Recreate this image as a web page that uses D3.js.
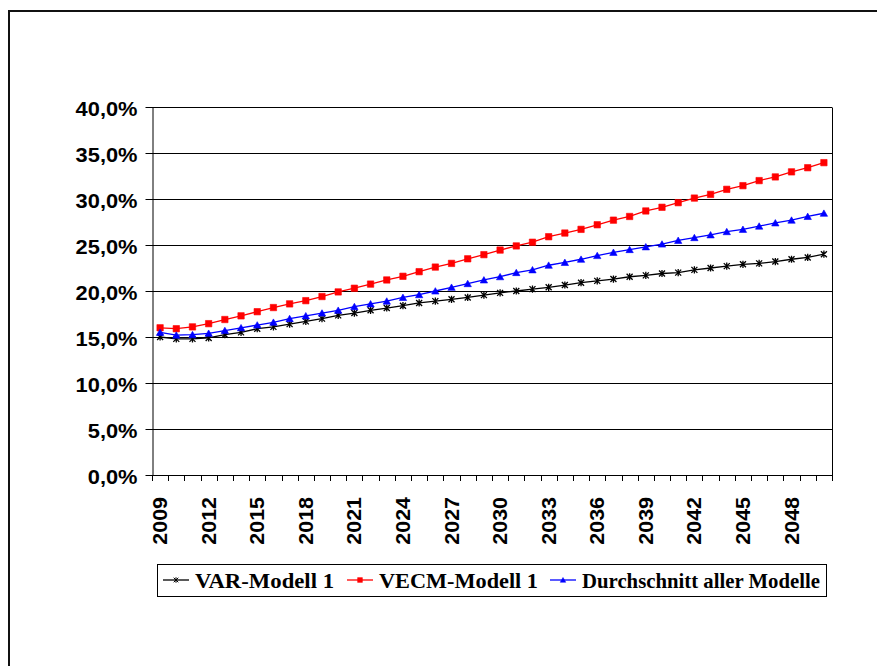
<!DOCTYPE html>
<html>
<head>
<meta charset="utf-8">
<script src="https://cdn.jsdelivr.net/npm/d3@7"></script>
<style>
  html, body { margin: 0; padding: 0; background: #fff; }
  svg { display: block; }
</style>
</head>
<body>
<svg id="chart" width="877" height="666"></svg>
<script>
// Years on the category axis
const years = d3.range(2009, 2051);

// Projected shares in percent
const varModell1 = [
  15.0, 14.8, 14.8, 14.9, 15.25, 15.5, 15.9, 16.1, 16.4, 16.7,
  17.0, 17.35, 17.6, 17.9, 18.15, 18.4, 18.7, 18.9, 19.1, 19.3,
  19.55, 19.8, 20.0, 20.2, 20.4, 20.65, 20.9, 21.1, 21.3, 21.55,
  21.7, 21.9, 22.0, 22.3, 22.5, 22.7, 22.9, 23.0, 23.2, 23.45,
  23.65, 24.0
];
const vecmModell1 = [
  16.0, 15.9, 16.1, 16.45, 16.9, 17.3, 17.75, 18.2, 18.6, 18.95,
  19.4, 19.9, 20.3, 20.75, 21.2, 21.6, 22.1, 22.6, 23.0, 23.5,
  23.95, 24.45, 24.9, 25.3, 25.9, 26.3, 26.7, 27.2, 27.7, 28.1,
  28.7, 29.1, 29.6, 30.1, 30.5, 31.05, 31.45, 32.0, 32.4, 32.95,
  33.4, 33.95
];
const durchschnitt = [
  15.5, 15.2, 15.25, 15.4, 15.7, 16.0, 16.3, 16.6, 17.0, 17.3,
  17.6, 17.9, 18.3, 18.6, 18.9, 19.3, 19.6, 20.0, 20.4, 20.8,
  21.2, 21.55, 22.0, 22.3, 22.8, 23.1, 23.45, 23.85, 24.2, 24.5,
  24.8, 25.1, 25.5, 25.8, 26.1, 26.45, 26.7, 27.05, 27.4, 27.7,
  28.1, 28.45
];

// Axis labels
const yTicks = [0, 5, 10, 15, 20, 25, 30, 35, 40];
const xTickYears = d3.range(2009, 2050, 3);

const seriesNames = ["VAR-Modell 1", "VECM-Modell 1", "Durchschnitt aller Modelle"];
const seriesColors = ["#000000", "#ff0000", "#0000ff"];
const seriesMarkers = ["star", "square", "triangle"];
const seriesValues = [varModell1, vecmModell1, durchschnitt];

const svg = d3.select("#chart");

// Outer frame (open at right and bottom)
svg.append("path")
  .attr("d", "M9,666 V11 H877")
  .attr("fill", "none")
  .attr("stroke", "#111")
  .attr("stroke-width", 2);

const plot = { left: 152, right: 832, top: 107, bottom: 475 };

const x = d3.scaleBand().domain(years).range([plot.left, plot.right]).padding(0);
const y = d3.scaleLinear().domain([0, 40]).range([plot.bottom, plot.top]);
const cx = d => x(d) + x.bandwidth() / 2;

const axisFont = "'Liberation Sans', Arial, sans-serif";

// Horizontal gridlines
svg.append("g")
  .selectAll("line")
  .data(yTicks.filter(t => t > 0))
  .join("line")
  .attr("x1", plot.left).attr("x2", plot.right)
  .attr("y1", d => Math.round(y(d)) + 0.5).attr("y2", d => Math.round(y(d)) + 0.5)
  .attr("stroke", "#000").attr("stroke-width", 1);

// Right border of plot area
svg.append("line")
  .attr("x1", plot.right + 0.5).attr("x2", plot.right + 0.5)
  .attr("y1", Math.round(y(40)) + 0.5).attr("y2", plot.bottom)
  .attr("stroke", "#000");

// Y axis
const yAxis = svg.append("g")
  .attr("transform", `translate(${plot.left + 0.5},0)`)
  .call(d3.axisLeft(y).tickValues(yTicks).tickSize(7).tickSizeOuter(0)
    .tickFormat(d => d.toFixed(1).replace(".", ",") + "%"));
yAxis.selectAll(".tick").attr("transform", d => `translate(0,${Math.round(y(d)) + 0.5})`);
yAxis.select(".domain").attr("stroke", "#000");
yAxis.selectAll(".tick line").attr("stroke", "#000");
yAxis.selectAll(".tick text")
  .attr("x", 0).attr("dy", null).attr("y", 0)
  .attr("transform", "translate(-15,8.5) scale(1.12,1)")
  .attr("text-anchor", "end")
  .attr("font-family", axisFont)
  .attr("font-weight", "bold")
  .attr("font-size", "19.5px")
  .attr("fill", "#000");

// X axis baseline and ticks at category boundaries
const xAxis = svg.append("g");
xAxis.append("line")
  .attr("x1", plot.left).attr("x2", plot.right + 1)
  .attr("y1", plot.bottom + 0.5).attr("y2", plot.bottom + 0.5)
  .attr("stroke", "#000");
xAxis.selectAll("line.tick")
  .data(years.map(d => x(d)).concat([x.range()[1]]))
  .join("line")
  .attr("class", "tick")
  .attr("x1", d => Math.round(d) + 0.5).attr("x2", d => Math.round(d) + 0.5)
  .attr("y1", plot.bottom).attr("y2", plot.bottom + 6)
  .attr("stroke", "#000");
xAxis.selectAll("text")
  .data(xTickYears)
  .join("text")
  .attr("transform", d => `translate(${cx(d) + 7},497) rotate(-90) scale(1.1,1)`)
  .attr("text-anchor", "end")
  .attr("font-family", axisFont)
  .attr("font-weight", "bold")
  .attr("font-size", "19.5px")
  .attr("fill", "#000")
  .text(d => d);

// Marker shapes
function markerPath(kind, s) {
  if (kind === "square") return `M${-s},${-s}H${s}V${s}H${-s}Z`;
  if (kind === "triangle") return `M0,${-s * 1.05}L${s * 1.15},${s * 0.95}L${-s * 1.15},${s * 0.95}Z`;
  return `M${-s},${-s}L${s},${s}M${-s},${s}L${s},${-s}M0,${-s * 1.2}V${s * 1.2}`;
}

const line = d3.line().x(d => cx(d.year)).y(d => y(d.value));

seriesValues.forEach((vals, i) => {
  const data = years.map((yr, j) => ({ year: yr, value: vals[j] }));
  const g = svg.append("g");
  g.append("path")
    .datum(data)
    .attr("d", line)
    .attr("fill", "none")
    .attr("stroke", seriesColors[i])
    .attr("stroke-width", 1.3);
  g.selectAll("path.m")
    .data(data)
    .join("path")
    .attr("class", "m")
    .attr("transform", d => `translate(${cx(d.year)},${y(d.value)})`)
    .attr("d", markerPath(seriesMarkers[i], seriesMarkers[i] === "star" ? 3 : 3.2))
    .attr("fill", seriesColors[i])
    .attr("stroke", seriesColors[i])
    .attr("stroke-width", seriesMarkers[i] === "star" ? 1.3 : 0.6);
});

// Legend
const legend = svg.append("g");
legend.append("rect")
  .attr("x", 157.5).attr("y", 564.5)
  .attr("width", 669).attr("height", 32)
  .attr("fill", "#fff").attr("stroke", "#000");

const legendX = [163, 347, 550];
const legendTextWidth = [139, 159, 238];
seriesNames.forEach((name, i) => {
  const g = legend.append("g").attr("transform", `translate(${legendX[i]},580)`);
  g.append("line")
    .attr("x1", 0).attr("x2", 26).attr("y1", 0).attr("y2", 0)
    .attr("stroke", seriesColors[i]).attr("stroke-width", 1.3);
  g.append("path")
    .attr("transform", "translate(13,0)")
    .attr("d", markerPath(seriesMarkers[i], seriesMarkers[i] === "star" ? 2.3 : 2.4))
    .attr("fill", seriesColors[i])
    .attr("stroke", seriesColors[i])
    .attr("stroke-width", seriesMarkers[i] === "star" ? 1 : 0.5);
  g.append("text")
    .attr("x", 32).attr("y", 8)
    .attr("font-family", "'Liberation Serif', 'Times New Roman', serif")
    .attr("font-weight", "bold")
    .attr("font-size", "22px")
    .attr("textLength", legendTextWidth[i])
    .attr("lengthAdjust", "spacingAndGlyphs")
    .attr("fill", "#000")
    .text(name);
});
</script>
</body>
</html>
